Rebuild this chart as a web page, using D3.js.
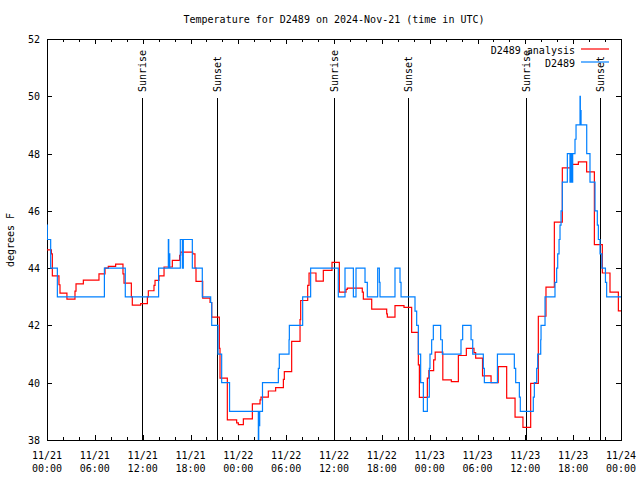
<!DOCTYPE html>
<html><head><meta charset="utf-8">
<script src="https://cdn.jsdelivr.net/npm/d3@7"></script>
<style>
body{margin:0;background:#fff;}
text{font-family:"DejaVu Sans Mono","Liberation Mono",monospace;font-size:10px;fill:#000;}
</style></head>
<body><svg id="c" width="640" height="480"></svg>
<script>
// ---- data (hours since 11/21 00:00 UTC) ----
const titleText = "Temperature for D2489 on 2024-Nov-21 (time in UTC)";
const yLabel = "degrees F";
const seriesNames = ["D2489 analysis", "D2489"];
const seriesColors = ["#ff0000", "#0080ff"];
const xTickDates = ["11/21","11/21","11/21","11/21","11/22","11/22","11/22","11/22","11/23","11/23","11/23","11/23","11/24"];
const xTickTimes = ["00:00","06:00","12:00","18:00","00:00","06:00","12:00","18:00","00:00","06:00","12:00","18:00","00:00"];
const yTicks = [38,40,42,44,46,48,50,52];
const sunEvents = ["Sunrise","Sunset","Sunrise","Sunset","Sunrise","Sunset"];
const sunTimes = [11.96, 21.36, 36.04, 45.32, 60.12, 69.4];

const analysisT = [0,0.55,0.67,1.5,1.63,2.5,3.51,3.64,4.56,6.52,7.28,7.69,8.61,9.53,9.66,10.58,10.7,11.75,12.59,12.71,13.42,13.55,14.05,14.68,15.72,16.64,16.77,18.27,18.56,18.69,19.53,20.45,20.66,21.62,21.7,22.62,23.79,24.0,24.63,25.76,26.72,26.84,27.76,28.68,29.65,29.77,30.69,31.74,31.82,32.7,32.87,33.74,34.66,35.75,36.67,37.51,37.67,39.55,39.68,40.73,42.61,42.69,43.65,44.78,45.74,46.58,46.71,47.71,47.9,48.5,48.69,49.65,50.72,51.6,52.6,53.56,53.77,54.63,55.7,56.6,57.66,58.71,59.7,60.67,61.63,62.59,63.64,64.64,65.69,66.65,67.69,68.66,69.66,70.62,71.67,72];
const analysisV = [44.64,44.5,43.73,43.42,43.13,42.92,43.2,43.45,43.58,43.8,44.0,44.06,44.14,43.8,43.48,43.0,42.71,42.76,43.0,43.21,43.4,43.57,43.73,44.04,44.27,44.45,44.56,44.5,44.0,43.54,42.95,42.8,42.29,41.2,40.16,38.7,38.6,38.54,38.74,39.26,39.4,39.5,39.71,39.83,40.12,40.39,41.44,42.2,42.87,43.4,43.83,43.55,43.92,44.2,43.16,43.26,43.3,43.16,42.92,42.57,42.4,42.29,42.69,42.63,41.76,40.62,39.49,40.16,40.42,40.8,41.07,40.1,40.04,40.95,41.2,41.05,40.86,40.24,40.0,40.56,39.46,38.8,38.44,39.98,42.32,43.34,45.61,47.5,47.62,47.71,47.36,44.82,43.83,43.16,42.51,42.51];

const obsT = [0,0.04,0.46,1.3,7.2,9.82,14.0,15.22,15.27,15.35,15.4,16.72,16.98,17.1,18.23,19.48,20.53,20.66,21.45,21.91,22.9,26.51,26.56,26.63,26.68,27.03,29.02,29.14,30.36,30.4,32.07,33.07,36.54,37.38,38.43,38.76,39.89,40.18,41.48,41.69,41.77,43.65,44.28,44.41,46.16,46.37,46.58,46.87,47.21,47.71,47.96,48.04,48.25,48.46,49.38,49.59,51.93,52.14,53.19,53.4,54.73,54.86,56.5,58.62,58.79,59.25,59.37,61.0,61.13,61.42,61.55,61.93,61.97,62.47,63.72,63.93,64.06,64.23,64.35,64.48,64.64,65.27,65.6,65.65,65.73,65.78,65.88,65.94,66.23,66.36,66.86,66.9,66.95,66.99,67.7,68.11,68.74,69.03,69.16,69.37,69.6,70.05,70.2,72];
const obsV = [45.5,45.0,44.0,43.0,44.0,43.0,44.0,45.0,44.0,44.5,44.0,45.0,44.0,45.0,44.0,43.0,42.8,42.0,41.0,40.0,39.0,38.0,39.0,38.5,39.0,40.0,40.5,41.0,41.5,42.0,43.0,44.0,43.0,44.0,43.0,44.0,43.5,43.0,44.0,43.5,43.0,44.0,43.5,43.0,42.5,42.0,41.0,40.0,39.0,39.5,40.5,41.0,41.5,42.0,41.5,41.0,41.5,42.0,41.5,41.0,40.5,40.0,41.0,40.5,40.0,39.5,39.0,39.5,40.0,40.5,41.0,41.5,42.0,43.0,43.5,44.0,44.5,45.0,45.5,46.0,47.0,48.0,47.0,48.0,47.0,48.0,47.0,48.0,48.5,49.0,50.0,49.0,49.5,49.0,48.0,47.0,46.0,45.5,45.0,44.5,44.0,43.5,43.0,43.0];

// ---- layout ----
const L = 47, R = 621, T = 39, B = 440;
const svg = d3.select("#c");
const x = d3.scaleLinear().domain([0, 72]).range([L, R]);
const y = d3.scaleLinear().domain([38, 52]).range([B, T]);

svg.append("defs").append("clipPath").attr("id","clip")
  .append("rect").attr("x",L).attr("y",T).attr("width",R-L).attr("height",B-T);

// title
svg.append("text").attr("x",(L+R)/2).attr("y",23).attr("text-anchor","middle").text(titleText);
// y label
svg.append("text").attr("transform","translate(14,240) rotate(-90)").attr("text-anchor","middle").text(yLabel);

// axes
const xTickVals = d3.range(0, 73, 2);
const tickLen = h => (h % 6 === 0 ? 5 : 3);
const gx = svg.append("g");
gx.selectAll("line.b").data(xTickVals).join("line")
  .attr("x1",d=>Math.round(x(d))+0.5).attr("x2",d=>Math.round(x(d))+0.5)
  .attr("y1",B).attr("y2",d=>B-tickLen(d)).attr("stroke","#000");
gx.selectAll("line.t").data(xTickVals).join("line")
  .attr("x1",d=>Math.round(x(d))+0.5).attr("x2",d=>Math.round(x(d))+0.5)
  .attr("y1",T).attr("y2",d=>T+tickLen(d)).attr("stroke","#000");
const labVals = d3.range(0, 73, 6);
const lab = svg.append("g").selectAll("text").data(labVals).join("text")
  .attr("x",d=>x(d)).attr("text-anchor","middle");
lab.append("tspan").attr("x",d=>x(d)).attr("y",459).text((d,i)=>xTickDates[i]);
lab.append("tspan").attr("x",d=>x(d)).attr("y",472).text((d,i)=>xTickTimes[i]);

const gy = svg.append("g");
gy.selectAll("line.l").data(yTicks).join("line")
  .attr("x1",L).attr("x2",L+5).attr("y1",d=>Math.round(y(d))+0.5).attr("y2",d=>Math.round(y(d))+0.5).attr("stroke","#000");
gy.selectAll("line.r").data(yTicks).join("line")
  .attr("x1",R-5).attr("x2",R).attr("y1",d=>Math.round(y(d))+0.5).attr("y2",d=>Math.round(y(d))+0.5).attr("stroke","#000");
gy.selectAll("text").data(yTicks).join("text")
  .attr("x",L-7).attr("y",d=>y(d)+4).attr("text-anchor","end").text(d=>d);

// frame
svg.append("rect").attr("x",L+0.5).attr("y",T+0.5).attr("width",R-L).attr("height",B-T)
  .attr("fill","none").attr("stroke","#000");

// sunrise / sunset
const sg = svg.append("g");
sg.selectAll("line").data(sunTimes).join("line")
  .attr("x1",d=>Math.round(x(d))+0.5).attr("x2",d=>Math.round(x(d))+0.5)
  .attr("y1",98).attr("y2",B).attr("stroke","#000").attr("stroke-width",1);
sg.selectAll("text").data(sunTimes).join("text")
  .attr("transform",d=>`translate(${Math.round(x(d))+4},92) rotate(-90)`)
  .attr("text-anchor","start").text((d,i)=>sunEvents[i]);

// series
const line = d3.line().x(d=>x(d[0])).y(d=>y(d[1])).curve(d3.curveStepAfter);
const red = analysisT.map((t,i)=>[t, analysisV[i]]);
const blue = obsT.map((t,i)=>[t, obsV[i]]);
const plot = svg.append("g").attr("clip-path","url(#clip)");
plot.append("path").datum(red).attr("d",line).attr("fill","none").attr("stroke",seriesColors[0]).attr("stroke-width",1.2);
plot.append("path").datum(blue).attr("d",line).attr("fill","none").attr("stroke",seriesColors[1]).attr("stroke-width",1.2);

// legend
const lg = svg.append("g");
seriesNames.forEach((n,i)=>{
  const yy = 50 + i*13;
  lg.append("text").attr("x",575).attr("y",yy+4).attr("text-anchor","end").text(n);
  lg.append("line").attr("x1",581).attr("x2",609).attr("y1",yy-1).attr("y2",yy-1)
    .attr("stroke",seriesColors[i]).attr("stroke-width",1.2);
});
</script></body></html>
